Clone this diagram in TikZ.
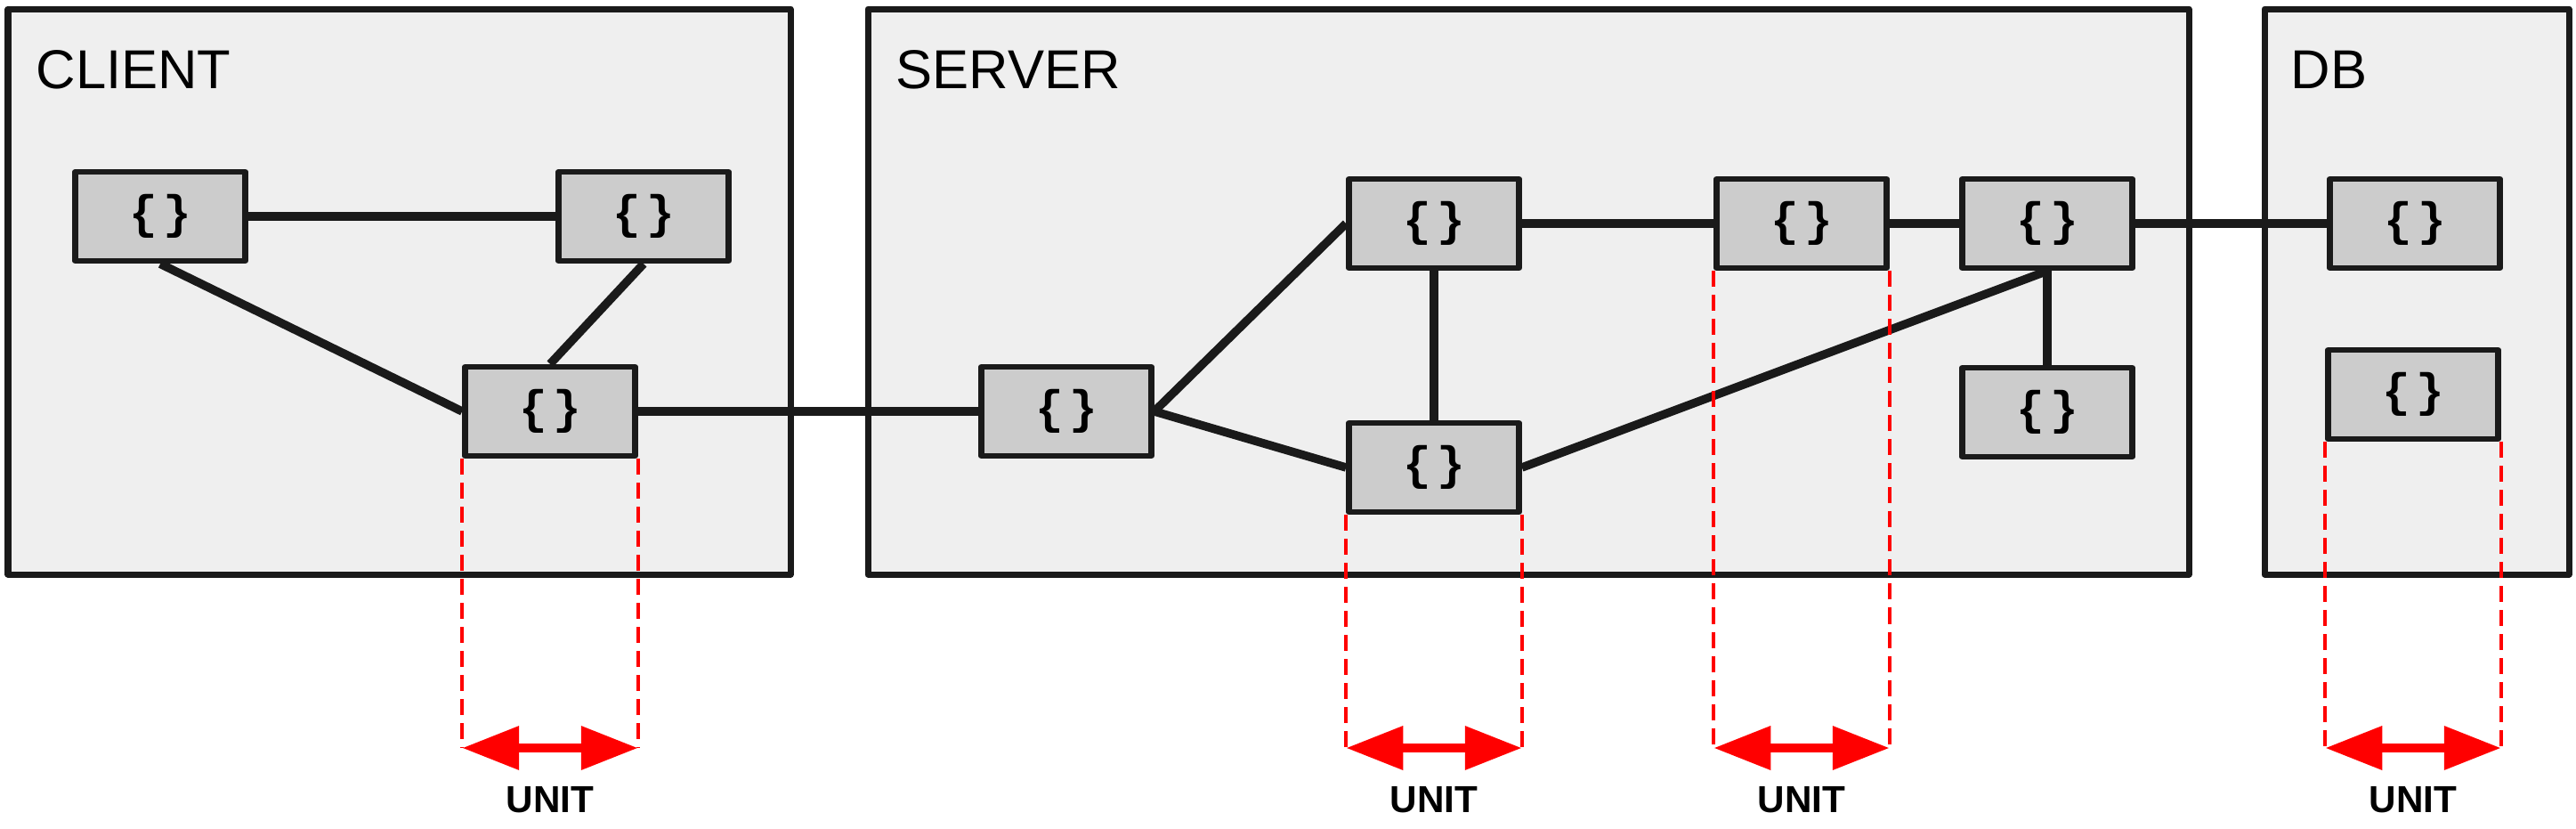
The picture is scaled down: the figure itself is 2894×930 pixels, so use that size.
\documentclass[tikz,border=0pt]{standalone}
\usepackage{fontspec}
\setmainfont{Liberation Sans}
\newfontfamily\bracefont{Liberation Mono}
\usetikzlibrary{arrows.meta}
\definecolor{ink}{HTML}{1A1A1A}
\definecolor{nodefill}{HTML}{CCCCCC}
\definecolor{boxfill}{HTML}{EFEFEF}
\definecolor{unitred}{HTML}{FF0000}
\newcommand{\codemark}{\{\kern1.8pt\}}
\begin{document}
\begin{tikzpicture}[x=0.01cm,y=-0.01cm,
 zone/.style={draw=ink, fill=boxfill, line width=0.07cm, line join=round},
 comp/.style={draw=ink, fill=nodefill, line width=0.065cm, minimum width=1.91cm, minimum height=1.0cm, inner sep=0pt, font=\bracefont\bfseries\fontsize{15}{17}\selectfont, text=black, line join=round},
 link/.style={draw=ink, line width=0.095cm},
 zonelabel/.style={anchor=base west, inner sep=0pt, font=\fontsize{17.5}{20}\selectfont, text=black},
 guide/.style={draw=unitred, line width=0.04cm, dash pattern=on 0.18cm off 0.09cm},
 unitspan/.style={draw=unitred, line width=0.10cm, {Triangle[length=0.64cm,width=0.47cm]}-{Triangle[length=0.64cm,width=0.47cm]}},
 unitlabel/.style={font=\bfseries\fontsize{12}{14}\selectfont, anchor=base, inner sep=0pt, text=black}
]
\useasboundingbox (0,0) rectangle (2894,930);
\fill[white] (0,0) rectangle (2894,930);

% zones
\draw[zone] (9,10) rectangle (888,645);
\draw[zone] (975,10) rectangle (2459,645);
\draw[zone] (2544,10) rectangle (2886,645);
\node[zonelabel] (lclient) at (40,99) {CLIENT};
\node[zonelabel] (lserver) at (1006,99) {SERVER};
\node[zonelabel] (ldb) at (2573,99) {DB};

% components
\node[comp] (A) at (180,243) {\codemark};
\node[comp] (B) at (723,243) {\codemark};
\node[comp] (C) at (618,462) {\codemark};
\node[comp] (S1) at (1198,462) {\codemark};
\node[comp] (S2) at (1611,251) {\codemark};
\node[comp] (S3) at (1611,525) {\codemark};
\node[comp] (S4) at (2024,251) {\codemark};
\node[comp] (S5) at (2300,251) {\codemark};
\node[comp] (S6) at (2300,463) {\codemark};
\node[comp] (D1) at (2713,251) {\codemark};
\node[comp] (D2) at (2711,443) {\codemark};

% links
\draw[link] (A.east) -- (B.west);
\draw[link] (A.south) -- (C.west);
\draw[link] (B.south) -- (C.north);
\draw[link] (C.east) -- (S1.west);
\draw[link] (S1.east) -- (S2.west);
\draw[link] (S1.east) -- (S3.west);
\draw[link] (S2.south) -- (S3.north);
\draw[link] (S2.east) -- (S4.west);
\draw[link] (S4.east) -- (S5.west);
\draw[link] (S3.east) -- (S5.south);
\draw[link] (S5.south) -- (S6.north);
\draw[link] (S5.east) -- (D1.west);

% unit markers
\coordinate (arrowline) at (0,840);
\coordinate (unitbase) at (0,912);
\foreach \n in {C,S3,S4,D2} {
  \coordinate (\n-l) at (\n.south west |- arrowline);
  \coordinate (\n-r) at (\n.south east |- arrowline);
  \draw[guide] (\n.south west) -- (\n-l);
  \draw[guide] (\n.south east) -- (\n-r);
  \draw[unitspan] (\n-l) -- (\n-r);
  \node[unitlabel] (\n-unit) at (\n.south |- unitbase) {UNIT};
}
\end{tikzpicture}
\end{document}
